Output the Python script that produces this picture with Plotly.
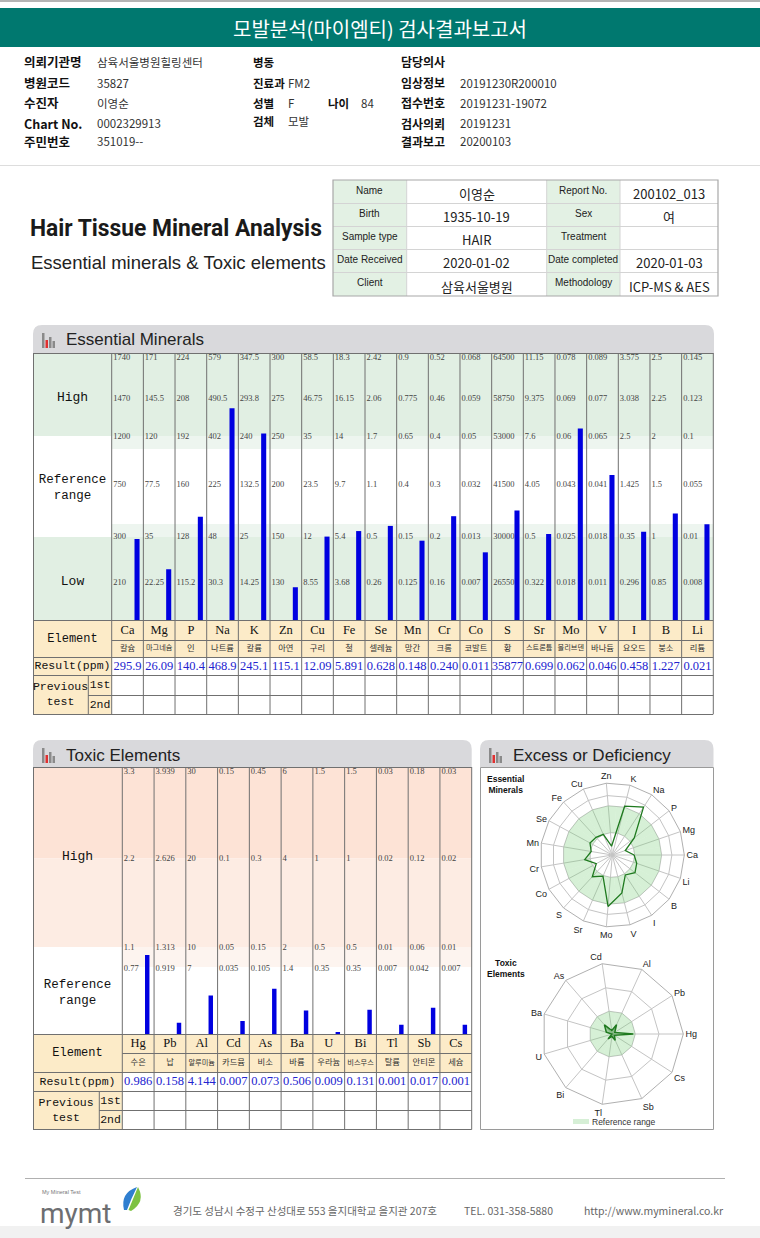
import numpy as np
import plotly.graph_objects as go

W, H = 760, 1238

# ---------------- data ----------------
title_text = "모발분석(마이엠티) 검사결과보고서"

info_col1_labels = ["의뢰기관명", "병원코드", "수진자", "Chart No.", "주민번호"]
info_col1_values = ["삼육서울병원힐링센터", "35827", "이영순", "0002329913", "351019--"]
info_col2_labels = ["병동", "진료과", "성별", "검체"]
info_col2_values = ["", "FM2", "F", "모발"]
info_age_label = "나이"
info_age_value = "84"
info_col3_labels = ["담당의사", "임상정보", "접수번호", "검사의뢰", "결과보고"]
info_col3_values = ["", "20191230R200010", "20191231-19072", "20191231", "20200103"]

sample_left_labels = ["Name", "Birth", "Sample type", "Date Received", "Client"]
sample_left_values = ["이영순", "1935-10-19", "HAIR", "2020-01-02", "삼육서울병원"]
sample_right_labels = ["Report No.", "Sex", "Treatment", "Date completed", "Methodology"]
sample_right_values = ["200102_013", "여", "", "2020-01-03", "ICP-MS & AES"]

ess_elements = ["Ca", "Mg", "P", "Na", "K", "Zn", "Cu", "Fe", "Se", "Mn",
                "Cr", "Co", "S", "Sr", "Mo", "V", "I", "B", "Li"]
ess_korean = ["칼슘", "마그네슘", "인", "나트륨", "칼륨", "아연", "구리", "철", "셀레늄", "망간",
              "크롬", "코발트", "황", "스트론튬", "몰리브덴", "바나듐", "요오드", "붕소", "리튬"]
ess_result_text = ["295.9", "26.09", "140.4", "468.9", "245.1", "115.1", "12.09", "5.891", "0.628",
                   "0.148", "0.240", "0.011", "35877", "0.699", "0.062", "0.046", "0.458", "1.227", "0.021"]
ess_lv1 = [210, 22.25, 115.2, 30.3, 14.25, 130, 8.55, 3.68, 0.26, 0.125, 0.16, 0.007, 26550, 0.322, 0.018, 0.011, 0.296, 0.85, 0.008]
ess_lv2 = [300, 35, 128, 48, 25, 150, 12, 5.4, 0.5, 0.15, 0.2, 0.013, 30000, 0.5, 0.025, 0.018, 0.35, 1, 0.01]
ess_lv3 = [750, 77.5, 160, 225, 132.5, 200, 23.5, 9.7, 1.1, 0.4, 0.3, 0.032, 41500, 4.05, 0.043, 0.041, 1.425, 1.5, 0.055]
ess_lv4 = [1200, 120, 192, 402, 240, 250, 35, 14, 1.7, 0.65, 0.4, 0.05, 53000, 7.6, 0.06, 0.065, 2.5, 2, 0.1]
ess_lv5 = [1470, 145.5, 208, 490.5, 293.8, 275, 46.75, 16.15, 2.06, 0.775, 0.46, 0.059, 58750, 9.375, 0.069, 0.077, 3.038, 2.25, 0.123]
ess_lv6 = [1740, 171, 224, 579, 347.5, 300, 58.5, 18.3, 2.42, 0.9, 0.52, 0.068, 64500, 11.15, 0.078, 0.089, 3.575, 2.5, 0.145]

tox_elements = ["Hg", "Pb", "Al", "Cd", "As", "Ba", "U", "Bi", "Tl", "Sb", "Cs"]
tox_korean = ["수은", "납", "알루미늄", "카드뮴", "비소", "바륨", "우라늄", "비스무스", "탈륨", "안티몬", "세슘"]
tox_result_text = ["0.986", "0.158", "4.144", "0.007", "0.073", "0.506", "0.009", "0.131", "0.001", "0.017", "0.001"]
tox_lv1 = [0.77, 0.919, 7, 0.035, 0.105, 1.4, 0.35, 0.35, 0.007, 0.042, 0.007]
tox_lv2 = [1.1, 1.313, 10, 0.05, 0.15, 2, 0.5, 0.5, 0.01, 0.06, 0.01]
tox_lv3 = [2.2, 2.626, 20, 0.1, 0.3, 4, 1, 1, 0.02, 0.12, 0.02]
tox_lv4 = [3.3, 3.939, 30, 0.15, 0.45, 6, 1.5, 1.5, 0.03, 0.18, 0.03]

footer_address = "경기도 성남시 수정구 산성대로 553 을지대학교 을지관 207호"
footer_tel = "TEL. 031-358-5880"
footer_url = "http://www.mymineral.co.kr"

# ---------------- layout constants (pixels) ----------------
ESS_TOP, ESS_BOT = 353, 620
ESS_X0, ESS_X1 = 111.7, 713.3
ESS_LEVEL_H = [0, 37, 83, 135, 183, 221, 264]
TOX_TOP, TOX_BOT = 767, 1034
TOX_X0, TOX_X1 = 122.3, 471.7
TOX_LEVEL_H = [0, 65, 86.5, 175.5, 264.5]

SANS = "Liberation Sans, Arial, sans-serif"
KR = "Noto Sans CJK KR, sans-serif"
MONO = "Liberation Mono, monospace"
SERIF = "Liberation Serif, serif"

GREEN_BAND = "#e1efe3"
GREEN_FAINT = "#edf5ef"
TAN = "#fcebc8"
LINE = "#707070"


def X(x):
    return x / W


def Y(y):
    return 1 - y / H


shapes = []
annos = []


def rect(x0, y0, x1, y1, fill, line=None, lw=1):
    shapes.append(dict(type="rect", xref="paper", yref="paper", x0=X(x0), x1=X(x1), y0=Y(y1), y1=Y(y0),
                       fillcolor=fill, line=dict(color=line or "rgba(0,0,0,0)", width=lw if line else 0),
                       layer="below"))


def hline(x0, x1, y, color=LINE, w=1):
    shapes.append(dict(type="line", xref="paper", yref="paper", x0=X(x0), x1=X(x1), y0=Y(y), y1=Y(y),
                       line=dict(color=color, width=w), layer="below"))


def vline(x, y0, y1, color=LINE, w=1):
    shapes.append(dict(type="line", xref="paper", yref="paper", x0=X(x), x1=X(x), y0=Y(y0), y1=Y(y1),
                       line=dict(color=color, width=w), layer="below"))


def pathshape(cmds, fill, line=None, lw=0):
    shapes.append(dict(type="path", xref="paper", yref="paper", path=cmds, fillcolor=fill,
                       line=dict(color=line or "rgba(0,0,0,0)", width=lw), layer="below"))


def P(x, y):
    return f"{X(x):.6f},{Y(y):.6f}"


def tab(x0, y0, x1, y1, r=9, fill="#d9d9dc"):
    cmd = (f"M {P(x0, y1)} L {P(x0, y0 + r)} Q {P(x0, y0)} {P(x0 + r, y0)} L {P(x1 - r, y0)} "
           f"Q {P(x1, y0)} {P(x1, y0 + r)} L {P(x1, y1)} Z")
    pathshape(cmd, fill)


def icon(x, ybot):
    rect(x, ybot - 15, x + 2.5, ybot, "#8a8a8a")
    rect(x + 3.5, ybot - 8, x + 6, ybot, "#e03030")
    rect(x + 7, ybot - 11, x + 9.5, ybot, "#8a8a8a")
    rect(x + 10.5, ybot - 7, x + 13, ybot, "#8a8a8a")


def ann(x, y, text, size, color="#222", family=SANS, xanchor="left", yanchor="middle", weight="normal"):
    annos.append(dict(x=X(x), y=Y(y), xref="paper", yref="paper", text=text, showarrow=False,
                      xanchor=xanchor, yanchor=yanchor,
                      font=dict(size=size, color=color, family=family, weight=weight),
                      borderpad=0))


fig = go.Figure()


def add_text(xs, ys, ts, size, color="#222", family=SANS, pos="middle center"):
    fig.add_trace(go.Scatter(x=list(xs), y=list(ys), text=list(ts), mode="text", textposition=pos,
                             textfont=dict(size=size, color=color, family=family),
                             xaxis="x", yaxis="y", hoverinfo="skip", showlegend=False, cliponaxis=False))


# ---------------- page header ----------------
rect(0, 0, W, 2, "#b4b4b4")
rect(0, 8, W, 47, "#00786f")
ann(380, 28, title_text, 20, "white", KR, xanchor="center")

rows_y = [62, 83, 103, 123, 141]
for i, (lab, val) in enumerate(zip(info_col1_labels, info_col1_values)):
    ann(23, rows_y[i], lab, 12.5, "#111", KR, weight="bold")
    ann(96, rows_y[i], val, 11.5, "#333", KR)
col2_y = [62, 83, 103, 121]
for i, (lab, val) in enumerate(zip(info_col2_labels, info_col2_values)):
    ann(252, col2_y[i], lab, 11.5, "#111", KR, weight="bold")
    if val:
        ann(287, col2_y[i], val, 11.5, "#333", KR)
ann(327, 103, info_age_label, 11.5, "#111", KR, weight="bold")
ann(360, 103, info_age_value, 11.5, "#333", KR)
for i, (lab, val) in enumerate(zip(info_col3_labels, info_col3_values)):
    ann(400, rows_y[i], lab, 12, "#111", KR, weight="bold")
    if val:
        ann(459, rows_y[i], val, 11.5, "#333", KR)

hline(0, W, 165.5, "#dddddd", 1)

# ---------------- title block ----------------
ann(176, 228, "Hair Tissue Mineral Analysis", 24.5, "#1a1a1a", "Roboto, Liberation Sans, sans-serif",
    xanchor="center", weight="bold")
ann(30, 262, "Essential minerals &amp; Toxic elements", 18.5, "#222", SANS)

# sample info table
ST_X = [333, 406.7, 546.7, 620, 718]
ST_Y = [180, 203, 226, 249, 272, 296]
rect(ST_X[0], ST_Y[0], ST_X[1], ST_Y[-1], "#e3f1e4")
rect(ST_X[2], ST_Y[0], ST_X[3], ST_Y[-1], "#e3f1e4")
for yy in ST_Y[1:-1]:
    hline(ST_X[0], ST_X[-1], yy + 0.5, "#d4d4d4")
for xx in ST_X[1:-1]:
    vline(xx, ST_Y[0], ST_Y[-1], "#d4d4d4")
rect(ST_X[0], ST_Y[0], ST_X[-1], ST_Y[-1], "rgba(0,0,0,0)", "#a8a8a8", 1.2)
for i in range(5):
    yc = (ST_Y[i] + ST_Y[i + 1]) / 2
    ann((ST_X[0] + ST_X[1]) / 2, yc - 1, sample_left_labels[i], 10, "#222", SANS, xanchor="center")
    ann((ST_X[2] + ST_X[3]) / 2, yc - 1, sample_right_labels[i], 10, "#222", SANS, xanchor="center")
    ann((ST_X[1] + ST_X[2]) / 2, yc + 2, sample_left_values[i], 13, "#222", KR, xanchor="center")
    if sample_right_values[i]:
        ann((ST_X[3] + ST_X[4]) / 2, yc + 2, sample_right_values[i], 13, "#222", KR, xanchor="center")

# ---------------- essential minerals panel ----------------
n_ess = len(ess_elements)
ess_cw = (ESS_X1 - ESS_X0) / n_ess
ess_levels = np.array([ess_lv1, ess_lv2, ess_lv3, ess_lv4, ess_lv5, ess_lv6], dtype=float).T
ess_vals = np.array([float(s) for s in ess_result_text])
ess_pos = np.array([np.interp(v, np.r_[0.0, lv], ESS_LEVEL_H) for v, lv in zip(ess_vals, ess_levels)])

tab(33, 325, 714, 353)
icon(42, 348)
ann(65, 340, "Essential Minerals", 17, "#222", SANS)

rect(33, ESS_TOP, ESS_X1, 436, GREEN_BAND)
rect(ESS_X0, 436, ESS_X1, 449, GREEN_FAINT)
rect(ESS_X0, 524, ESS_X1, 537, GREEN_FAINT)
rect(33, 537, ESS_X1, ESS_BOT, GREEN_BAND)
rect(33, 620, ESS_X1, 657, TAN)
rect(33, 657, ESS_X0, 714, TAN)

ess_div = [ESS_X0 + i * ess_cw for i in range(n_ess + 1)]
for xx in ess_div:
    vline(xx, ESS_TOP, 714)
vline(33.5, ESS_TOP, 714)
hline(33, ESS_X1, ESS_TOP + 0.5)
hline(33, ESS_X1, 620.5)
hline(ESS_X0, ESS_X1, 640.5)
hline(33, ESS_X1, 657.5)
hline(33, ESS_X1, 675.5)
hline(88, ESS_X1, 695.5)
hline(33, ESS_X1, 714.5)
vline(88.3, 675, 714)

lx, ly, lt = [], [], []
for i in range(n_ess):
    for k in range(6):
        lx.append(ess_div[i] + 1.5)
        ly.append(max(ESS_BOT - ESS_LEVEL_H[k + 1], ESS_TOP + 5))
        lt.append(f"{ess_levels[i, k]:g}")
add_text(lx, ly, lt, 8.5, "#444", SERIF, "middle right")

add_text([72.5], [398], ["High"], 13, "#111", MONO)
add_text([72.5], [488], ["Reference<br>range"], 12.5, "#111", MONO)
add_text([72.5], [582], ["Low"], 13, "#111", MONO)

ess_cx = [ess_div[i] + ess_cw / 2 for i in range(n_ess)]
add_text(ess_cx, [630.5] * n_ess, ess_elements, 12.5, "#111", SERIF)
add_text(ess_cx, [648.5] * n_ess, ess_korean, [7.2 if len(s) >= 4 else 8.3 for s in ess_korean], "#333", KR)
add_text(ess_cx, [666.5] * n_ess, ess_result_text, 12.5, "#2323cf", SERIF)
add_text([72.5], [639], ["Element"], 12, "#111", MONO)
add_text([72.5], [666.5], ["Result(ppm)"], 11.5, "#111", MONO)
add_text([60.5], [694.5], ["Previous<br>test"], 11.5, "#111", MONO)
add_text([100, 100], [685.5, 705], ["1st", "2nd"], 11.5, "#111", MONO)

fig.add_trace(go.Bar(x=np.arange(n_ess) + 0.8, y=ess_pos, width=0.16,
                     marker=dict(color="#0000e0", line=dict(width=0)),
                     xaxis="x2", yaxis="y2", hoverinfo="skip", showlegend=False))

# ---------------- toxic elements panel ----------------
n_tox = len(tox_elements)
tox_cw = (TOX_X1 - TOX_X0) / n_tox
tox_levels = np.array([tox_lv1, tox_lv2, tox_lv3, tox_lv4], dtype=float).T
tox_vals = np.array([float(s) for s in tox_result_text])
tox_pos = np.array([np.interp(v, np.r_[0.0, lv], TOX_LEVEL_H) for v, lv in zip(tox_vals, tox_levels)])

tab(33, 740, 471.7, 767)
icon(42, 763)
ann(65, 755, "Toxic Elements", 17, "#222", SANS)

rect(33, TOX_TOP, TOX_X1, 858.5, "#fde3d6")
rect(33, 858.5, TOX_X1, 947, "#fdece3")
rect(TOX_X0, 947, TOX_X1, 967, "#fdf4ef")
rect(33, 1034, TOX_X1, 1072, TAN)
rect(33, 1072, TOX_X0, 1129.5, TAN)

tox_div = [TOX_X0 + i * tox_cw for i in range(n_tox + 1)]
for xx in tox_div:
    vline(xx, TOX_TOP, 1129.5)
vline(33.5, TOX_TOP, 1129.5)
hline(33, TOX_X1, TOX_TOP + 0.5)
hline(33, TOX_X1, 1034.5)
hline(TOX_X0, TOX_X1, 1053.5)
hline(33, TOX_X1, 1072.5)
hline(33, TOX_X1, 1091.5)
hline(99, TOX_X1, 1110.5)
hline(33, TOX_X1, 1129.5)
vline(99.3, 1091.5, 1129.5)

lx, ly, lt = [], [], []
for i in range(n_tox):
    for k in range(4):
        lx.append(tox_div[i] + 1.5)
        ly.append(max(TOX_BOT - TOX_LEVEL_H[k + 1], TOX_TOP + 5))
        lt.append(f"{tox_levels[i, k]:g}")
add_text(lx, ly, lt, 8.5, "#444", SERIF, "middle right")

add_text([77.5], [857], ["High"], 13, "#111", MONO)
add_text([77.5], [993], ["Reference<br>range"], 12.5, "#111", MONO)

tox_cx = [tox_div[i] + tox_cw / 2 for i in range(n_tox)]
add_text(tox_cx, [1044] * n_tox, tox_elements, 12.5, "#111", SERIF)
add_text(tox_cx, [1063] * n_tox, tox_korean, [7.2 if len(s) >= 4 else 8.3 for s in tox_korean], "#333", KR)
add_text(tox_cx, [1082] * n_tox, tox_result_text, 12.5, "#2323cf", SERIF)
add_text([77.5], [1053], ["Element"], 12, "#111", MONO)
add_text([77.5], [1082], ["Result(ppm)"], 11.5, "#111", MONO)
add_text([66], [1110.5], ["Previous<br>test"], 11.5, "#111", MONO)
add_text([110.5, 110.5], [1101.5, 1120.5], ["1st", "2nd"], 11.5, "#111", MONO)

fig.add_trace(go.Bar(x=np.arange(n_tox) + 0.785, y=tox_pos, width=0.14,
                     marker=dict(color="#0000e0", line=dict(width=0)),
                     xaxis="x3", yaxis="y3", hoverinfo="skip", showlegend=False))

# ---------------- excess or deficiency panel ----------------
tab(480, 740, 713.5, 767)
icon(489, 763)
ann(512, 755, "Excess or Deficiency", 17, "#222", SANS)
rect(480.5, 767.5, 713.5, 1129.5, "white", "#9a9a9a", 1)
ann(486, 784, "<b>Essential<br>Minerals</b>", 8.5, "#111", SANS)
ann(486, 968, "<b>Toxic<br>Elements</b>", 8.5, "#111", SANS)
rect(573, 1119, 589, 1124, "#d6efd6")
ann(591, 1121.5, "Reference range", 8.5, "#333", SANS)

ess_chart_h = ESS_BOT - ESS_TOP
tox_chart_h = TOX_BOT - TOX_TOP

fig.add_trace(go.Barpolar(r=[ESS_LEVEL_H[4] - ESS_LEVEL_H[2]] * n_ess, base=[ESS_LEVEL_H[2]] * n_ess,
                          theta=ess_elements, marker=dict(color="rgba(120,205,120,0.30)", line=dict(width=0)),
                          subplot="polar", hoverinfo="skip", showlegend=False))
fig.add_trace(go.Scatterpolar(r=list(ess_pos) + [ess_pos[0]], theta=ess_elements + [ess_elements[0]],
                              mode="lines", line=dict(color="#1f7a1f", width=1.3),
                              subplot="polar", hoverinfo="skip", showlegend=False))

fig.add_trace(go.Barpolar(r=[TOX_LEVEL_H[2]] * n_tox, base=[0] * n_tox, theta=tox_elements,
                          marker=dict(color="rgba(120,205,120,0.30)", line=dict(width=0)),
                          subplot="polar2", hoverinfo="skip", showlegend=False))
fig.add_trace(go.Scatterpolar(r=list(tox_pos) + [tox_pos[0]], theta=tox_elements + [tox_elements[0]],
                              mode="lines", fill="toself", fillcolor="rgba(40,140,40,0.35)",
                              line=dict(color="#1f7a1f", width=1.5),
                              subplot="polar2", hoverinfo="skip", showlegend=False))

# ---------------- footer ----------------
hline(25, 725, 1178.5, "#b0b0b0", 1)
rect(0, 1226, W, H, "#f1f1f1")
ann(41, 1192, "My Mineral Test", 5.5, "#777", SANS)
ann(39, 1213, "mymt", 28, "#6d6e71", "Roboto, sans-serif")
pathshape(f"M {P(124, 1210)} Q {P(120, 1193)} {P(137, 1187)} Q {P(131, 1199)} {P(127, 1210)} Z", "#2f7fd0")
pathshape(f"M {P(128.5, 1210)} Q {P(133, 1199)} {P(138, 1187)} Q {P(146, 1202)} {P(131, 1211)} Z", "#7dc242")
ann(172, 1210, footer_address, 10.5, "#666", KR)
ann(463, 1210, footer_tel, 10.5, "#666", KR)
ann(583, 1210, footer_url, 10.5, "#666", KR)


def polar_layout(cx, cy, rad, cats, tickvals, rng):
    return dict(
        domain=dict(x=[X(cx - rad), X(cx + rad)], y=[Y(cy + rad), Y(cy - rad)]),
        bgcolor="rgba(0,0,0,0)", gridshape="linear", bargap=0,
        angularaxis=dict(direction="counterclockwise", rotation=0, type="category",
                         categoryorder="array", categoryarray=cats,
                         tickfont=dict(size=9, family=SANS, color="#222"),
                         gridcolor="#c4c4c4", linecolor="#b0b0b0", showline=True, ticks=""),
        radialaxis=dict(range=rng, tickvals=tickvals, showticklabels=False, gridcolor="#c4c4c4",
                        showline=False, ticks=""),
    )


fig.update_layout(
    width=W, height=H, margin=dict(l=0, r=0, t=0, b=0),
    paper_bgcolor="white", plot_bgcolor="rgba(0,0,0,0)", hovermode=False, showlegend=False,
    xaxis=dict(range=[0, W], domain=[0, 1], visible=False, fixedrange=True),
    yaxis=dict(range=[H, 0], domain=[0, 1], visible=False, fixedrange=True),
    xaxis2=dict(range=[0, n_ess], domain=[X(ESS_X0), X(ESS_X1)], visible=False, anchor="y2", fixedrange=True),
    yaxis2=dict(range=[0, ess_chart_h], domain=[Y(ESS_BOT), Y(ESS_TOP)], visible=False, anchor="x2", fixedrange=True),
    xaxis3=dict(range=[0, n_tox], domain=[X(TOX_X0), X(TOX_X1)], visible=False, anchor="y3", fixedrange=True),
    yaxis3=dict(range=[0, tox_chart_h], domain=[Y(TOX_BOT), Y(TOX_TOP)], visible=False, anchor="x3", fixedrange=True),
    polar=polar_layout(612.3, 855, 72, ess_elements,
                       [ESS_LEVEL_H[2], ESS_LEVEL_H[4], ESS_LEVEL_H[5]], [0, ess_chart_h]),
    polar2=polar_layout(612.3, 1034, 71, tox_elements,
                        [TOX_LEVEL_H[2], TOX_LEVEL_H[3]], [0, tox_chart_h]),
    shapes=shapes, annotations=annos,
)

post_js = """
document.documentElement.style.margin='0';
document.body.style.margin='0';
document.body.style.padding='0';
var ts = document.querySelectorAll('text.annotation-text');
for (var i = 0; i < ts.length; i++) {
  if (ts[i].textContent.indexOf('Hair Tissue') === 0) {
    ts[i].setAttribute('textLength', '292');
    ts[i].setAttribute('lengthAdjust', 'spacingAndGlyphs');
  }
}
"""

fig.write_html("out.html", config={"displayModeBar": False}, post_script=post_js)
